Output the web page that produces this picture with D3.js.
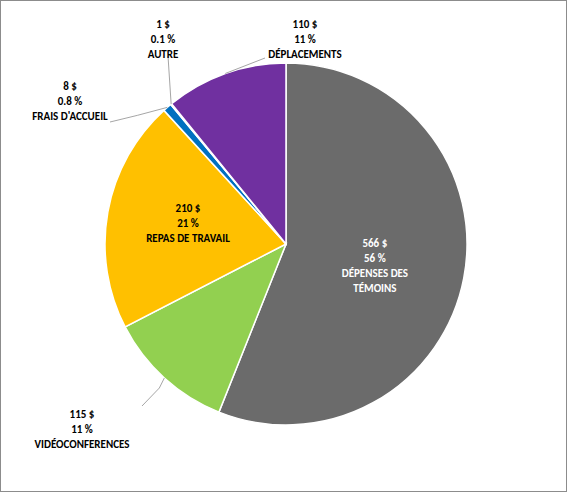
<!DOCTYPE html>
<html><head><meta charset="utf-8">
<script src="https://cdn.jsdelivr.net/npm/d3@7"></script>
<style>
body{margin:0;background:#fff}
svg{font-family:Calibri,"Liberation Sans",Arial,sans-serif;font-weight:bold;font-size:11px}
</style></head>
<body><svg width="567" height="492"></svg>
<script>
const categories = ["DÉPENSES DES TÉMOINS", "VIDÉOCONFERENCES", "REPAS DE TRAVAIL", "FRAIS D'ACCUEIL", "AUTRE", "DÉPLACEMENTS"];
const amounts = [566, 115, 210, 8, 1, 110];
const amountLabels = ["566 $", "115 $", "210 $", "8 $", "1 $", "110 $"];
const percentLabels = ["56 %", "11 %", "21 %", "0.8 %", "0.1 %", "11 %"];
const colors = ["#6b6b6b", "#92d050", "#ffc000", "#0070c0", "#ffffff", "#7030a0"];

const svg = d3.select("svg");
svg.append("rect").attr("x", 0.5).attr("y", 0.5).attr("width", 566).attr("height", 491)
  .attr("fill", "#fff").attr("stroke", "#8c8c8c");

const cx = 286, cy = 244, r = 181;
const g = svg.append("g").attr("transform", `translate(${cx},${cy})`);
const pie = d3.pie().sort(null).value(d => d)(amounts);
const arc = d3.arc().innerRadius(0).outerRadius(r);

g.selectAll("path").data(pie).join("path")
  .attr("d", arc).attr("fill", (d, i) => colors[i])
  .attr("stroke", "#fff").attr("stroke-width", 1.5);

// label placement: inside (radius fraction) or outside (absolute page pos)
const inside = {0: [0.5, "#fff"], 2: [0.55, "#000"]};
const outside = {1: [82, 408, "wrap"], 3: [70, 80], 4: [163, 18], 5: [305, 18]};

const lineText = (i) => {
  const lines = [amountLabels[i], percentLabels[i]];
  if (i === 0) { lines.push("DÉPENSES DES", "TÉMOINS"); } else lines.push(categories[i]);
  return lines;
};

pie.forEach((d, i) => {
  let x, y, fill = "#000";
  const a = (d.startAngle + d.endAngle) / 2;
  if (inside[i]) {
    const rr = r * inside[i][0];
    x = cx + Math.sin(a) * rr; y = cy - Math.cos(a) * rr - 24;
    fill = inside[i][1];
  } else {
    [x, y] = outside[i];
    const ex = cx + Math.sin(a) * r, ey = cy - Math.cos(a) * r;
    let pts;
    if (i === 1) pts = [[x + 60, y - 2], [ex - 5, ey + 10], [ex, ey]];
    else if (i === 3) pts = [[x + 40, y + 42], [ex - 30, ey + 8], [ex, ey]];
    else if (i === 4) pts = [[x + 5, y + 38], [ex, ey]];
    else pts = [[x - 40, y + 40], [ex, ey]];
    svg.append("path").attr("d", d3.line()(pts)).attr("fill", "none")
      .attr("stroke", "#a6a6a6").attr("stroke-width", 1);
  }
  const t = svg.append("text").attr("text-anchor", "middle").attr("fill", fill);
  lineText(i).forEach((s, k) => {
    t.append("tspan").attr("x", x).attr("y", y + 10 + k * 15).text(s);
  });
});
</script></body></html>
